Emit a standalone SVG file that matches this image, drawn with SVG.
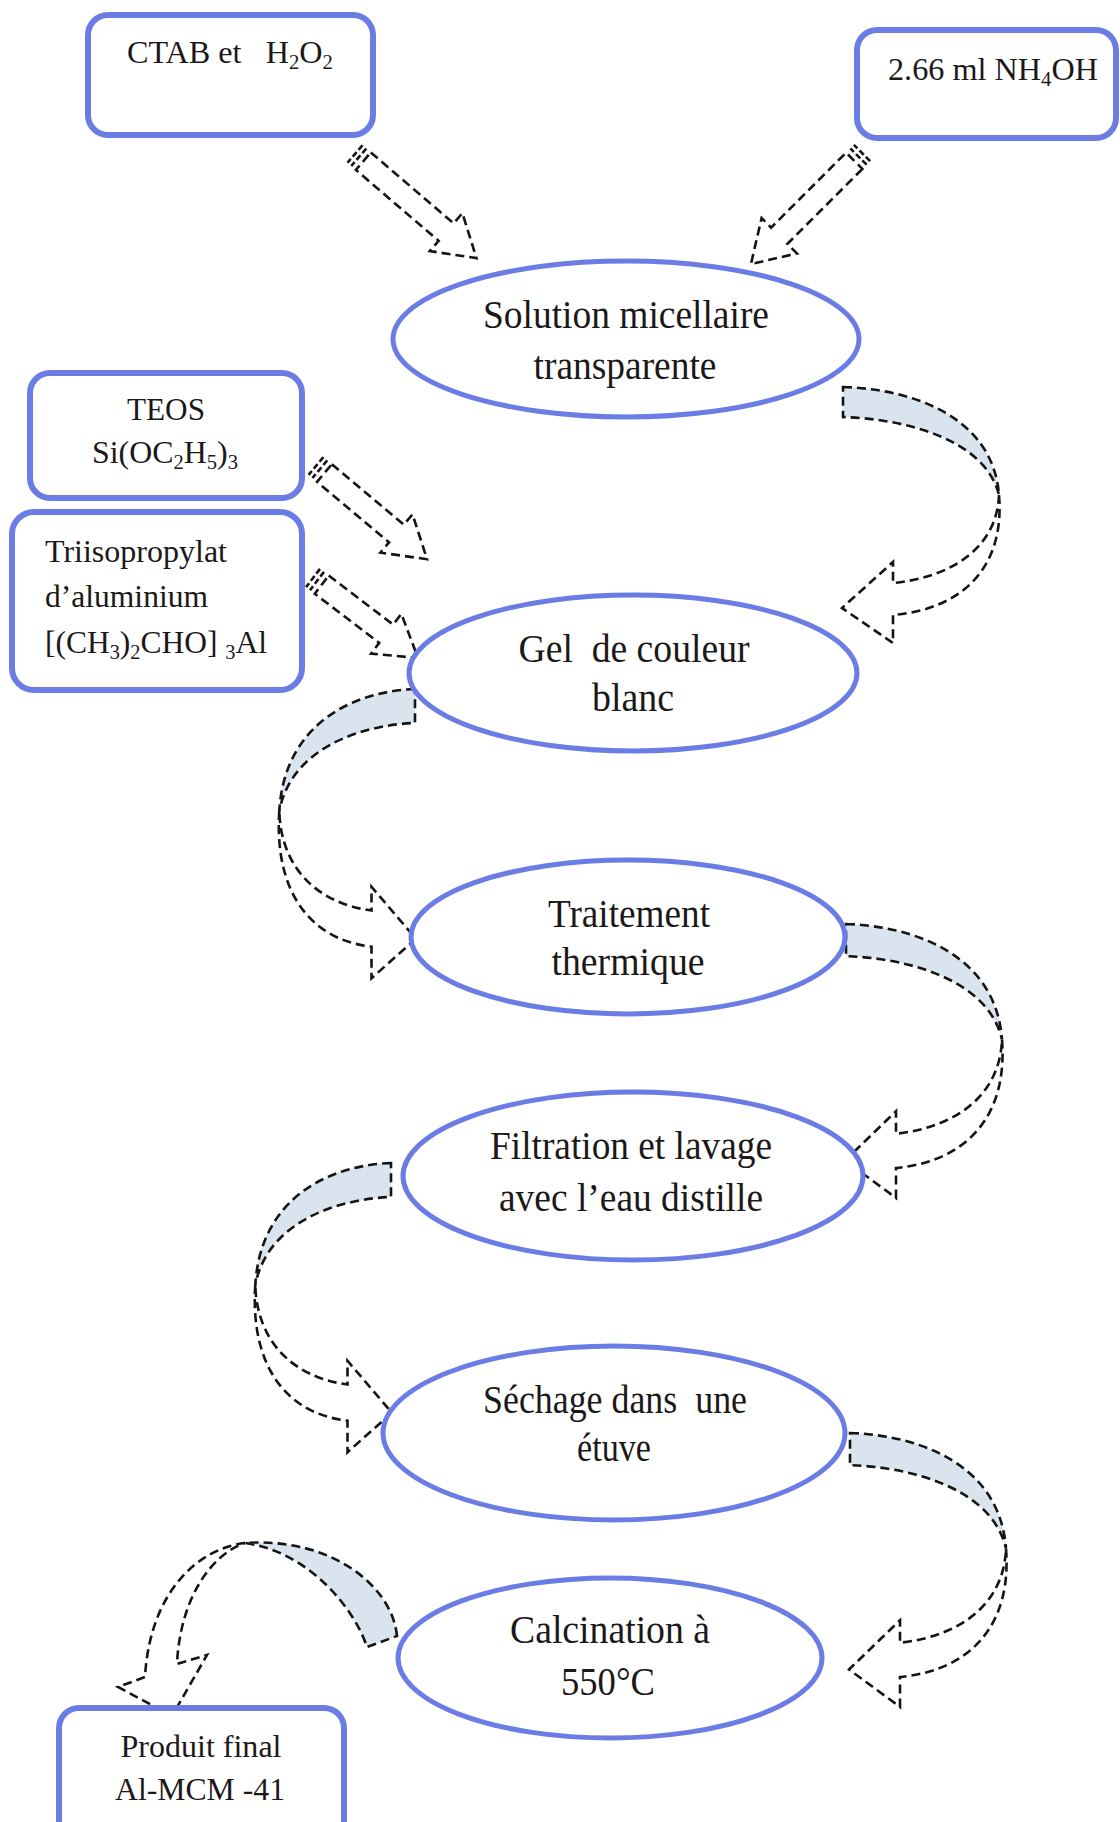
<svg xmlns="http://www.w3.org/2000/svg" xmlns:xlink="http://www.w3.org/1999/xlink" width="1120" height="1822" viewBox="0 0 1120 1822">
  <style>
    .box { fill: #ffffff; stroke: #6b7de4; stroke-width: 6; }
    .ell { fill: #ffffff; stroke: #6b7de4; stroke-width: 5; }
    .lbl { font-family: "Liberation Serif", "Times New Roman", serif; fill: #1c1818; }
    .big { font-size: 40px; }
    .small { font-size: 31px; }
    .sub { font-size: 20px; }
    .dash { fill: #ffffff; stroke: #141414; stroke-width: 2.6; stroke-dasharray: 9 5; stroke-linejoin: miter; }
    .stripe { fill: none; stroke: #141414; stroke-width: 2.6; stroke-dasharray: 6 3; }
    .back { fill: #d9e4ef; }
  </style>
  <defs>
    <!-- curved ribbon arrow turning clockwise: shaded back face, then white front face with head -->
    <g id="curveR">
      <path class="dash back" vector-effect="non-scaling-stroke" d="M0,0 C70,2 150,30 156,108 C142,52 62,32 0,30 Z"/>
      <path class="dash" vector-effect="non-scaling-stroke" d="M156,108 C162,180 120,222 50,228 L50,256 L-1,221 L50,175 L50,196 C110,190 154,160 156,108 Z"/>
    </g>
    <!-- two short stripes at the tail of a striped arrow -->
    <g id="tail">
      <path class="stripe" d="M0,-11.5 V11.5 M5,-11.5 V11.5"/>
    </g>
  </defs>

  <g id="connectors">
    <!-- striped straight arrows (tail stripes, body, head) -->
    <g id="arrow-ctab" transform="translate(355,154) rotate(40.6)">
      <use href="#tail" xlink:href="#tail"/>
      <path class="dash" d="M11,-11.5 L120,-11.5 L120,-25 L160,0 L120,25 L120,11.5 L11,11.5 Z"/>
    </g>
    <g id="arrow-nh4oh" transform="translate(862,153) rotate(135)">
      <use href="#tail" xlink:href="#tail"/>
      <path class="dash" d="M11,-11.5 L117,-11.5 L117,-25 L157,0 L117,25 L117,11.5 L11,11.5 Z"/>
    </g>
    <g id="arrow-teos" transform="translate(316,466) rotate(40)">
      <use href="#tail" xlink:href="#tail"/>
      <path class="dash" d="M11,-11.5 L105,-11.5 L105,-25 L145,0 L105,25 L105,11.5 L11,11.5 Z"/>
    </g>
    <g id="arrow-al" transform="translate(313,578) rotate(37.3)">
      <use href="#tail" xlink:href="#tail"/>
      <path class="dash" d="M11,-11.5 L92,-11.5 L92,-25 L132,0 L92,25 L92,11.5 L11,11.5 Z"/>
    </g>

    <!-- curved ribbon arrows between the steps -->
    <use href="#curveR" xlink:href="#curveR" transform="translate(843,387)"/>
    <use href="#curveR" xlink:href="#curveR" transform="translate(415,689) scale(-0.87,1.13)"/>
    <use href="#curveR" xlink:href="#curveR" transform="translate(846,924) scale(1,1.07)"/>
    <use href="#curveR" xlink:href="#curveR" transform="translate(391,1163) scale(-0.87,1.13)"/>
    <use href="#curveR" xlink:href="#curveR" transform="translate(850,1433) scale(1,1.07)"/>

    <!-- calcination to final product: arch over to the left -->
    <path class="dash back" d="M397,1636 C392,1585 330,1537 245,1543 C310,1552 355,1610 367,1647 Z"/>
    <path class="dash" d="M245,1543 C200,1548 150,1590 145,1677 L118,1687 L172,1716 L207,1655 L177,1664 C180,1600 210,1555 245,1543 Z"/>
  </g>

  <g id="node-ctab">
    <rect class="box" x="88" y="15" width="285" height="120" rx="20"/>
    <text class="lbl small" x="127" y="63" textLength="206" lengthAdjust="spacingAndGlyphs" xml:space="preserve">CTAB et   H<tspan class="sub" dy="6">2</tspan><tspan dy="-6">O</tspan><tspan class="sub" dy="6">2</tspan></text>
  </g>

  <g id="node-nh4oh">
    <rect class="box" x="857" y="30" width="259" height="108" rx="20"/>
    <text class="lbl small" x="888" y="80" textLength="210" lengthAdjust="spacingAndGlyphs">2.66 ml NH<tspan class="sub" dy="6">4</tspan><tspan dy="-6">OH</tspan></text>
  </g>

  <g id="node-solution">
    <ellipse class="ell" cx="626" cy="339" rx="233" ry="78"/>
    <text class="lbl big" x="626" y="328" text-anchor="middle" textLength="286" lengthAdjust="spacingAndGlyphs">Solution micellaire</text>
    <text class="lbl big" x="625" y="379" text-anchor="middle" textLength="183" lengthAdjust="spacingAndGlyphs">transparente</text>
  </g>

  <g id="node-teos">
    <rect class="box" x="30" y="373" width="272" height="125" rx="20"/>
    <text class="lbl small" x="166" y="420" text-anchor="middle" textLength="78" lengthAdjust="spacingAndGlyphs">TEOS</text>
    <text class="lbl small" x="165" y="463" text-anchor="middle" textLength="146" lengthAdjust="spacingAndGlyphs">Si(OC<tspan class="sub" dy="6">2</tspan><tspan dy="-6">H</tspan><tspan class="sub" dy="6">5</tspan><tspan dy="-6">)</tspan><tspan class="sub" dy="6">3</tspan></text>
  </g>

  <g id="node-aluminium">
    <rect class="box" x="12" y="512" width="290" height="178" rx="22"/>
    <text class="lbl small" x="45" y="562" textLength="182" lengthAdjust="spacingAndGlyphs">Triisopropylat</text>
    <text class="lbl small" x="45" y="607" textLength="163" lengthAdjust="spacingAndGlyphs">d’aluminium</text>
    <text class="lbl small" x="45" y="653" textLength="222" lengthAdjust="spacingAndGlyphs" xml:space="preserve">[(CH<tspan class="sub" dy="6">3</tspan><tspan dy="-6">)</tspan><tspan class="sub" dy="6">2</tspan><tspan dy="-6">CHO] </tspan><tspan class="sub" dy="6">3</tspan><tspan dy="-6">Al</tspan></text>
  </g>

  <g id="node-gel">
    <ellipse class="ell" cx="633" cy="673" rx="224" ry="78"/>
    <text class="lbl big" x="634" y="662" text-anchor="middle" textLength="231" lengthAdjust="spacingAndGlyphs" xml:space="preserve">Gel  de couleur</text>
    <text class="lbl big" x="633" y="711" text-anchor="middle" textLength="82" lengthAdjust="spacingAndGlyphs">blanc</text>
  </g>

  <g id="node-traitement">
    <ellipse class="ell" cx="628" cy="937" rx="217" ry="77"/>
    <text class="lbl big" x="629" y="927" text-anchor="middle" textLength="162" lengthAdjust="spacingAndGlyphs">Traitement</text>
    <text class="lbl big" x="628" y="975" text-anchor="middle" textLength="153" lengthAdjust="spacingAndGlyphs">thermique</text>
  </g>

  <g id="node-filtration">
    <ellipse class="ell" cx="633" cy="1176" rx="230" ry="84"/>
    <text class="lbl big" x="631" y="1159" text-anchor="middle" textLength="282" lengthAdjust="spacingAndGlyphs">Filtration et lavage</text>
    <text class="lbl big" x="631" y="1211" text-anchor="middle" textLength="264" lengthAdjust="spacingAndGlyphs">avec l’eau distille</text>
  </g>

  <g id="node-sechage">
    <ellipse class="ell" cx="614" cy="1433" rx="231" ry="87"/>
    <text class="lbl big" x="615" y="1413" text-anchor="middle" textLength="264" lengthAdjust="spacingAndGlyphs" xml:space="preserve">Séchage dans  une</text>
    <text class="lbl big" x="614" y="1461" text-anchor="middle" textLength="74" lengthAdjust="spacingAndGlyphs">étuve</text>
  </g>

  <g id="node-calcination">
    <ellipse class="ell" cx="610" cy="1658" rx="212" ry="80"/>
    <text class="lbl big" x="610" y="1643" text-anchor="middle" textLength="200" lengthAdjust="spacingAndGlyphs">Calcination à</text>
    <text class="lbl big" x="608" y="1695" text-anchor="middle" textLength="94" lengthAdjust="spacingAndGlyphs">550°C</text>
  </g>

  <g id="node-produit">
    <rect class="box" x="59" y="1708" width="285" height="140" rx="20"/>
    <text class="lbl small" x="201" y="1757" text-anchor="middle" textLength="161" lengthAdjust="spacingAndGlyphs">Produit final</text>
    <text class="lbl small" x="200" y="1800" text-anchor="middle" textLength="170" lengthAdjust="spacingAndGlyphs">Al-MCM -41</text>
  </g>
</svg>
